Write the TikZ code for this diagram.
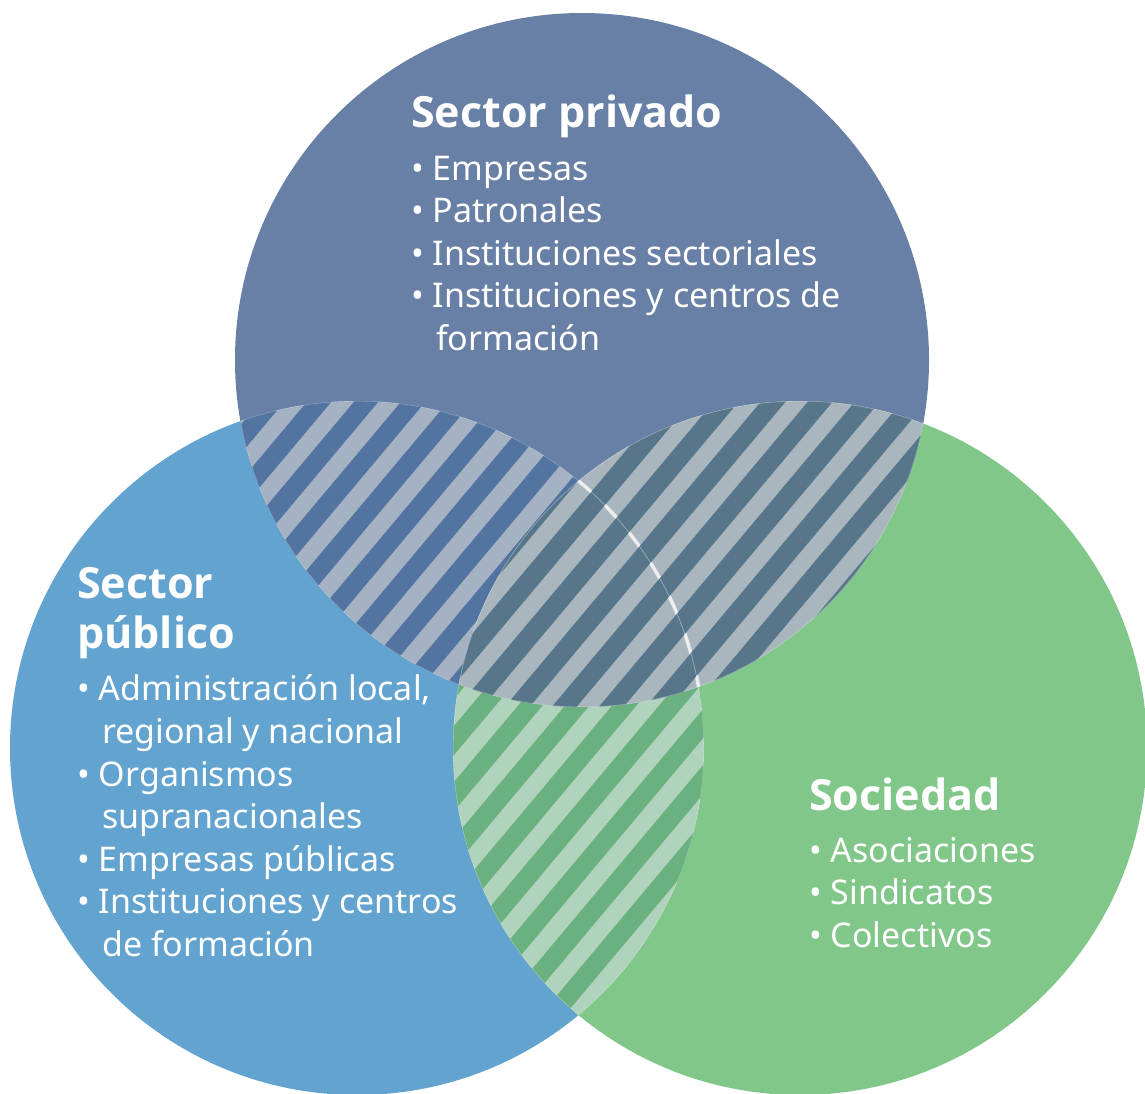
\documentclass[tikz,border=0pt]{standalone}
\usepackage{fontspec}
\setmainfont{Noto Sans}
\newfontfamily\negrita{Open Sans}
\usetikzlibrary{positioning}

\definecolor{privado}{HTML}{6880A5}
\definecolor{publico}{HTML}{63A3D0}
\definecolor{sociedad}{HTML}{82C78A}
\definecolor{privpubOsc}{HTML}{5374A0}
\definecolor{privpubCla}{HTML}{A4B2C4}
\definecolor{privsocOsc}{HTML}{58768A}
\definecolor{privsocCla}{HTML}{AAB6BE}
\definecolor{pubsocOsc}{HTML}{6BB17F}
\definecolor{pubsocCla}{HTML}{B0D3BD}

\newcommand{\sangria}{\hspace*{25pt}}

\begin{document}
\begin{tikzpicture}[
    x=1pt,
    y=-1pt,
    titulo/.style={anchor=base west, inner sep=0pt, text=white, align=left,
        font=\negrita\bfseries\fontsize{43}{50}\selectfont},
    lista/.style={anchor=base west, inner sep=0pt, text=white, align=left,
        font=\fontsize{34}{42.6}\selectfont},
    raya/.style={line width=17pt},
    borde/.style={white, opacity=0.35, line width=0.8pt}
]
    \useasboundingbox (0,0) rectangle (1145,1093);

    % radio y centros
    \def\rr{347}
    \coordinate (Cpriv) at (582,360);
    \coordinate (Cpub) at (357,748);
    \coordinate (Csoc) at (800,748);

    % circulos
    \fill[privado] (Cpriv) circle (\rr);
    \fill[publico] (Cpub) circle (\rr);
    \fill[sociedad] (Csoc) circle (\rr);

    % privado y publico
    \begin{scope}
        \clip (Cpriv) circle (\rr);
        \clip (Cpub) circle (\rr);
        \fill[privpubOsc] (Cpub) circle (\rr);
        \foreach \k in {0,...,24}
            \draw[raya, privpubCla] (152+47*\k,405) +(130:900) -- +(-50:900);
        \draw[borde] (Cpriv) circle (\rr);
        \draw[borde] (Cpub) circle (\rr);
    \end{scope}

    % publico y sociedad
    \begin{scope}
        \clip (Cpub) circle (\rr);
        \clip (Csoc) circle (\rr);
        \fill[pubsocOsc] (Csoc) circle (\rr);
        \foreach \k in {0,...,24}
            \draw[raya, pubsocCla] (148+47*\k,405) +(130:900) -- +(-50:900);
        \draw[borde] (Cpub) circle (\rr);
        \draw[borde] (Csoc) circle (\rr);
    \end{scope}

    % privado y sociedad (encima del centro)
    \begin{scope}
        \clip (Cpriv) circle (\rr);
        \clip (Csoc) circle (\rr);
        \fill[privsocCla] (Csoc) circle (\rr);
        \draw[white, opacity=0.75, line width=3.5pt] (Cpub) circle (\rr);
        \foreach \k in {0,...,24}
            \draw[line width=19pt, privsocOsc] (159.5+47*\k,405) +(130:900) -- +(-50:900);
        \draw[borde] (Cpub) circle (\rr);
        \draw[borde] (Cpriv) circle (\rr);
        \draw[borde] (Csoc) circle (\rr);
    \end{scope}

    % textos (base = ultima linea)
    \node[titulo] (tpriv) at (411,127) {Sector privado};
    \node[lista] (lpriv) at (411,350.4) {• Empresas\\• Patronales\\• Instituciones sectoriales\\• Instituciones y centros de\\\sangria formación};

    \node[titulo] (tpub) at (77,648) {Sector\\público};
    \node[lista] (lpub) at (77,956.5) {• Administración local,\\\sangria regional y nacional\\• Organismos\\\sangria supranacionales\\• Empresas públicas\\• Instituciones y centros\\\sangria de formación};

    \node[titulo] (tsoc) at (809,810) {Sociedad};
    \node[lista] (lsoc) at (809,947.2) {• Asociaciones\\• Sindicatos\\• Colectivos};

\end{tikzpicture}
\end{document}
